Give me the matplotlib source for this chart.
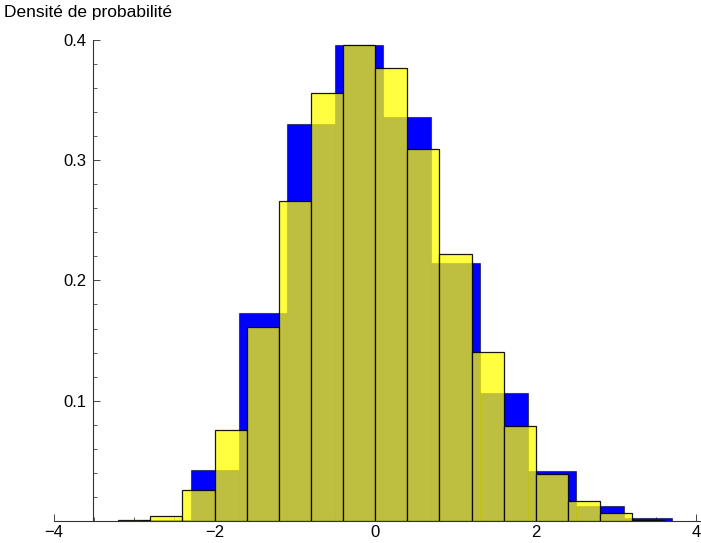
import numpy as np
import matplotlib.pyplot as plt
from matplotlib.ticker import MultipleLocator, FixedLocator

plt.rcParams['font.family'] = ['Liberation Sans', 'DejaVu Sans']

# blue histogram: bins of width 0.6
blue_edges = [-2.9, -2.3, -1.7, -1.1, -0.5, 0.1, 0.7, 1.3, 1.9, 2.5, 3.1, 3.7]
blue_heights = [0.001, 0.042, 0.1726, 0.3297, 0.396, 0.336, 0.2148, 0.1064, 0.0418, 0.0125, 0.0022]

# yellow histogram: bins of width 0.4
yellow_edges = [-3.2, -2.8, -2.4, -2.0, -1.6, -1.2, -0.8, -0.4, 0.0, 0.4, 0.8, 1.2, 1.6, 2.0, 2.4, 2.8, 3.2, 3.6]
yellow_heights = [0.0008, 0.0044, 0.0255, 0.0759, 0.1615, 0.266, 0.3555, 0.396, 0.3763, 0.309, 0.222,
                  0.1405, 0.0787, 0.039, 0.0169, 0.0064, 0.001]

xticks = [-4, -2, 0, 2, 4]
yticks = [0.1, 0.2, 0.3, 0.4]

fig = plt.figure(figsize=(7.01, 5.43), dpi=100)
W, H = 701.0, 543.0
x0, x1 = -4.0, 4.04
y0, y1 = 0.0, 0.401
ppx = 80.3   # pixels per x unit
ppy = 1203.0 # pixels per y unit
left = 54.0
bottom = 543.0 - 521.0
ax = fig.add_axes([left / W, bottom / H, (x1 - x0) * ppx / W, (y1 - y0) * ppy / H])

bw = np.diff(blue_edges)
ax.bar(blue_edges[:-1], blue_heights, width=bw, align='edge', color=(0, 0, 1),
       edgecolor=(0, 0, 0, 0.55), linewidth=0.8, zorder=2)
yw = np.diff(yellow_edges)
ax.bar(yellow_edges[:-1], yellow_heights, width=yw, align='edge', color=(1, 1, 0, 0.75),
       edgecolor=(0, 0, 0, 0.9), linewidth=0.9, zorder=3)

ax.set_xlim(x0, x1)
ax.set_ylim(y0, y1)

for s in ['top', 'right']:
    ax.spines[s].set_visible(False)
ax.spines['left'].set_position(('data', -3.51))
ax.spines['left'].set_bounds(0, 0.4)
for s in ['left', 'bottom']:
    ax.spines[s].set_linewidth(0.8)
    ax.spines[s].set_color('#333333')

ax.xaxis.set_major_locator(FixedLocator(xticks))
ax.xaxis.set_minor_locator(MultipleLocator(0.5))
ax.yaxis.set_major_locator(FixedLocator(yticks))
ax.yaxis.set_minor_locator(MultipleLocator(0.02))
ax.set_xticklabels([str(t) if t >= 0 else '\u2212' + str(-t) for t in xticks])
ax.set_yticklabels([str(t) for t in yticks])

ax.tick_params(which='both', direction='in', color='#444444', labelsize=12)
ax.tick_params(which='major', length=5, width=0.7)
ax.tick_params(which='minor', length=3, width=0.6)
ax.tick_params(axis='x', pad=3)
ax.tick_params(axis='y', pad=5)

fig.text(4 / W, 1 - 12 / H, 'Densit\u00e9 de probabilit\u00e9', fontsize=12.5, va='center', ha='left')

fig.savefig('out.png', dpi=100)
